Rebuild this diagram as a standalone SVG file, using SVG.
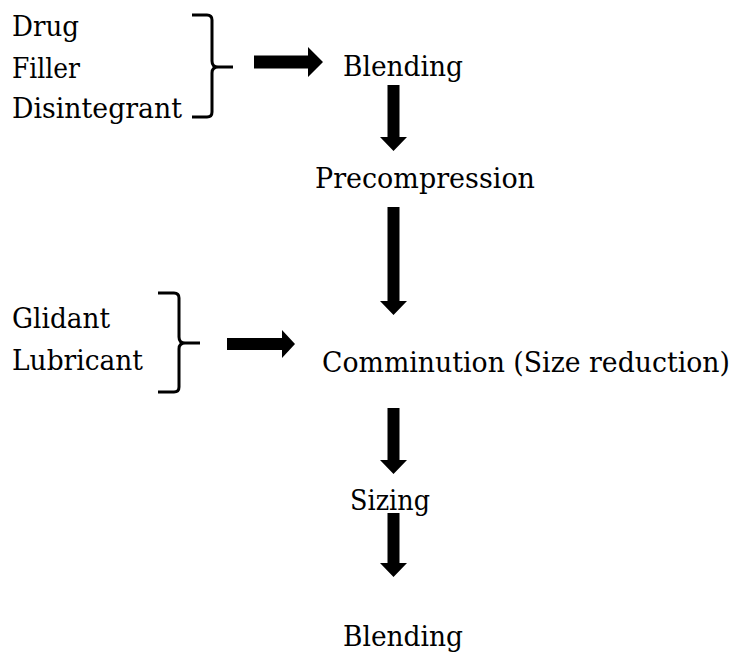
<svg xmlns="http://www.w3.org/2000/svg" width="736" height="658" viewBox="0 0 736 658">
<style>
text{font-family:"DejaVu Serif","Liberation Serif",serif;font-size:27px;fill:#000}
.brace{fill:none;stroke:#000;stroke-width:3;stroke-linecap:butt;stroke-linejoin:round}
.arrow{fill:#000;stroke:none}
</style>
<rect width="736" height="658" fill="#fff"/>
<g id="inputs1">
<text x="12" y="36" textLength="67" lengthAdjust="spacingAndGlyphs">Drug</text>
<text x="12" y="78" textLength="68" lengthAdjust="spacingAndGlyphs">Filler</text>
<text x="12" y="118" textLength="170" lengthAdjust="spacingAndGlyphs">Disintegrant</text>
<path class="brace" d="M192,15 H207 Q212,15 212,20 V61 Q212,67 218,67 H233 M218,67 Q212,67 212,73 V112 Q212,117 207,117 H192"/>
</g>
<g id="inputs2">
<text x="12" y="328" textLength="98" lengthAdjust="spacingAndGlyphs">Glidant</text>
<text x="12" y="370" textLength="131" lengthAdjust="spacingAndGlyphs">Lubricant</text>
<path class="brace" d="M158,293 H174 Q179,293 179,298 V337 Q179,343 185,343 H200 M185,343 Q179,343 179,349 V387 Q179,392 174,392 H158"/>
</g>
<g id="blending1"><text x="343" y="76" textLength="120" lengthAdjust="spacingAndGlyphs">Blending</text></g>
<g id="precompression"><text x="315" y="188" textLength="220" lengthAdjust="spacingAndGlyphs">Precompression</text></g>
<g id="comminution"><text x="322" y="372" textLength="408" lengthAdjust="spacingAndGlyphs">Comminution (Size reduction)</text></g>
<g id="sizing"><text x="350" y="510" textLength="80" lengthAdjust="spacingAndGlyphs">Sizing</text></g>
<g id="blending2"><text x="343" y="646" textLength="120" lengthAdjust="spacingAndGlyphs">Blending</text></g>
<g id="connectors">
<polygon class="arrow" points="254,55.5 308,55.5 308,47 323,62 308,77 308,68.5 254,68.5"/>
<polygon class="arrow" points="227,338 282,338 282,330 295,344 282,358 282,350 227,350"/>
<polygon class="arrow" points="387.5,85 399.5,85 399.5,137 407,137 393.5,151 380,137 387.5,137"/>
<polygon class="arrow" points="387.5,207 399.5,207 399.5,301 407,301 393.5,315 380,301 387.5,301"/>
<polygon class="arrow" points="387.5,408 399.5,408 399.5,460 407,460 393.5,474 380,460 387.5,460"/>
<polygon class="arrow" points="387.5,513 399.5,513 399.5,563 407,563 393.5,577 380,563 387.5,563"/>
</g>
</svg>
